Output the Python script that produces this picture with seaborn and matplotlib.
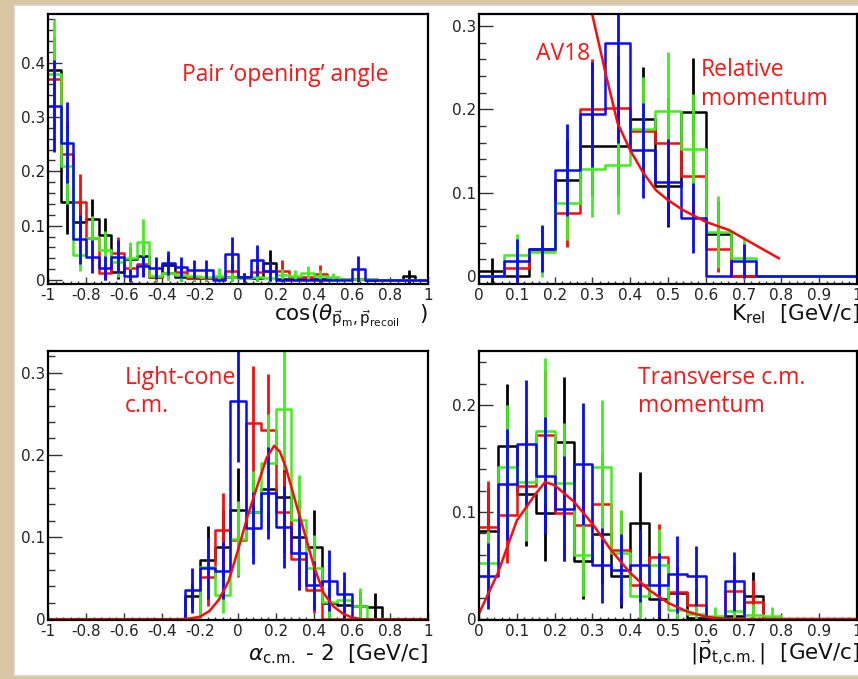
import numpy as np
import pandas as pd
import matplotlib
matplotlib.use("Agg")
import matplotlib.pyplot as plt
import seaborn as sns
from matplotlib.patches import Rectangle
from matplotlib.ticker import MultipleLocator, FuncFormatter

# ---------------- data ----------------
# Panel 1: pair opening angle, 30 bins on [-1, 1]
p1_black = [0.387, 0.143, 0.106, 0.113, 0.083, 0.014, 0.038, 0.044, 0.006, 0.028, 0.006, 0.004, 0.003, 0.003, 0.005,
            0.005, 0.003, 0.031, 0.002, 0.001, 0.001, 0.001, 0.001, 0.001, 0.001, 0.0, 0.0, 0.0, 0.007, 0.0]
p1_black_err = [0.06, 0.058, 0.04, 0.036, 0.032, 0.012, 0.022, 0.02, 0.007, 0.018, 0.007, 0.005, 0.005, 0.005, 0.006,
                0.008, 0.005, 0.025, 0.0, 0.0, 0.0, 0.0, 0.0, 0.0, 0.0, 0.0, 0.0, 0.0, 0.012, 0.0]
p1_red = [0.37, 0.232, 0.144, 0.078, 0.012, 0.05, 0.022, 0.029, 0.005, 0.012, 0.015, 0.003, 0.003, 0.003, 0.017,
          0.004, 0.014, 0.017, 0.017, 0.005, 0.005, 0.011, 0.002, 0.002, 0.002, 0.001, 0.0, 0.0, 0.0, 0.0]
p1_red_err = [0.07, 0.06, 0.052, 0.04, 0.012, 0.03, 0.02, 0.022, 0.008, 0.012, 0.013, 0.005, 0.005, 0.005, 0.014,
              0.006, 0.013, 0.014, 0.02, 0.0, 0.0, 0.017, 0.0, 0.0, 0.0, 0.0, 0.0, 0.0, 0.0, 0.0]
p1_green = [0.38, 0.21, 0.046, 0.077, 0.055, 0.034, 0.04, 0.069, 0.008, 0.012, 0.01, 0.008, 0.006, 0.008, 0.005,
            0.004, 0.006, 0.004, 0.01, 0.008, 0.013, 0.008, 0.005, 0.002, 0.002, 0.001, 0.0, 0.0, 0.0, 0.0]
p1_green_err = [0.1, 0.07, 0.03, 0.04, 0.035, 0.028, 0.03, 0.043, 0.01, 0.012, 0.011, 0.009, 0.008, 0.014, 0.007,
                0.006, 0.008, 0.007, 0.01, 0.01, 0.013, 0.01, 0.007, 0.0, 0.0, 0.0, 0.0, 0.0, 0.0, 0.0]
p1_blue = [0.32, 0.253, 0.075, 0.043, 0.022, 0.043, 0.008, 0.025, 0.022, 0.031, 0.023, 0.019, 0.019, 0.0, 0.047,
           0.005, 0.036, 0.017, 0.0, 0.0, 0.0, 0.0, 0.0, 0.0, 0.02, 0.0, 0.0, 0.0, 0.0, 0.0]
p1_blue_err = [0.085, 0.075, 0.045, 0.03, 0.022, 0.03, 0.012, 0.02, 0.02, 0.022, 0.02, 0.018, 0.018, 0.0, 0.033,
               0.008, 0.028, 0.018, 0.0, 0.0, 0.0, 0.0, 0.0, 0.0, 0.024, 0.0, 0.0, 0.0, 0.0, 0.0]

# Panel 2: relative momentum, 15 bins on [0, 1]
p2_black = [0.0064, 0.0, 0.033, 0.115, 0.156, 0.156, 0.189, 0.108, 0.197, 0.05, 0.0, 0.0, 0.0, 0.0, 0.0]
p2_black_err = [0.015, 0.0, 0.025, 0.05, 0.06, 0.06, 0.062, 0.049, 0.065, 0.04, 0.0, 0.0, 0.0, 0.0, 0.0]
p2_red = [0.0, 0.01, 0.031, 0.076, 0.2, 0.202, 0.174, 0.16, 0.12, 0.032, 0.0, 0.0, 0.0, 0.0, 0.0]
p2_red_err = [0.0, 0.014, 0.024, 0.041, 0.061, 0.062, 0.057, 0.055, 0.047, 0.027, 0.0, 0.0, 0.0, 0.0, 0.0]
p2_green = [0.0, 0.025, 0.029, 0.088, 0.129, 0.133, 0.177, 0.198, 0.153, 0.053, 0.022, 0.0, 0.0, 0.0, 0.0]
p2_green_err = [0.0, 0.026, 0.03, 0.045, 0.058, 0.058, 0.062, 0.071, 0.065, 0.043, 0.025, 0.0, 0.0, 0.0, 0.0]
p2_blue = [0.0, 0.018, 0.033, 0.127, 0.194, 0.28, 0.151, 0.113, 0.07, 0.0, 0.018, 0.0, 0.0, 0.0, 0.0]
p2_blue_err = [0.0, 0.027, 0.028, 0.055, 0.063, 0.12, 0.057, 0.052, 0.042, 0.0, 0.02, 0.0, 0.0, 0.0, 0.0]
av18_x = [0.29, 0.30, 0.337, 0.367, 0.40, 0.433, 0.468, 0.50, 0.54, 0.60, 0.662, 0.724, 0.794]
av18_y = [0.345, 0.313, 0.239, 0.183, 0.151, 0.125, 0.103, 0.091, 0.079, 0.065, 0.055, 0.039, 0.021]

# Panel 3: light-cone c.m., 25 bins on [-1, 1]
p3_black = [0] * 9 + [0.028, 0.072, 0.088, 0.133, 0.13, 0.158, 0.149, 0.1, 0.088, 0.02, 0.017, 0.016, 0.015] + [0] * 3
p3_black_err = [0] * 9 + [0.015, 0.041, 0.045, 0.051, 0.05, 0.05, 0.05, 0.045, 0.045, 0.02, 0.018, 0.018, 0.017] + [0] * 3
p3_red = [0] * 9 + [0.0, 0.051, 0.108, 0.096, 0.239, 0.23, 0.13, 0.073, 0.036, 0.0, 0.0, 0.0, 0.0] + [0] * 3
p3_red_err = [0] * 9 + [0.0, 0.035, 0.046, 0.045, 0.069, 0.068, 0.05, 0.037, 0.029, 0.0, 0.0, 0.0, 0.0] + [0] * 3
p3_green = [0] * 9 + [0.0, 0.063, 0.03, 0.098, 0.13, 0.19, 0.256, 0.121, 0.062, 0.021, 0.023, 0.016, 0.0] + [0] * 3
p3_green_err = [0] * 9 + [0.0, 0.035, 0.023, 0.046, 0.05, 0.06, 0.075, 0.055, 0.04, 0.02, 0.017, 0.022, 0.0] + [0] * 3
p3_blue = [0] * 9 + [0.035, 0.062, 0.059, 0.266, 0.111, 0.154, 0.112, 0.081, 0.041, 0.047, 0.031, 0.0, 0.0] + [0] * 3
p3_blue_err = [0] * 9 + [0.027, 0.038, 0.035, 0.075, 0.044, 0.056, 0.05, 0.045, 0.03, 0.037, 0.027, 0.0, 0.0] + [0] * 3
lc_x = [-1.0, -0.3, -0.25, -0.2, -0.15, -0.1, -0.05, 0.0, 0.05, 0.1, 0.15, 0.19, 0.22, 0.25, 0.3, 0.35, 0.4,
        0.45, 0.5, 0.55, 0.6, 0.65, 1.0]
lc_y = [0.0, 0.0, 0.001, 0.003, 0.01, 0.024, 0.046, 0.084, 0.125, 0.161, 0.196, 0.211, 0.204, 0.186, 0.145, 0.105,
        0.064, 0.032, 0.016, 0.007, 0.002, 0.0, 0.0]

# Panel 4: transverse c.m. momentum, 20 bins on [0, 1]
p4_black = [0.0826, 0.162, 0.117, 0.099, 0.165, 0.054, 0.079, 0.04, 0.09, 0.019, 0.024, 0.001, 0.002, 0.003, 0.021,
            0.0, 0.0, 0.0, 0.0, 0.0]
p4_black_err = [0.04, 0.058, 0.049, 0.045, 0.061, 0.035, 0.045, 0.03, 0.047, 0.02, 0.025, 0.0, 0.0, 0.0, 0.023,
                0.0, 0.0, 0.0, 0.0, 0.0]
p4_red = [0.086, 0.097, 0.124, 0.172, 0.099, 0.088, 0.107, 0.064, 0.032, 0.058, 0.025, 0.013, 0.001, 0.026, 0.016,
          0.0, 0.0, 0.0, 0.0, 0.0]
p4_red_err = [0.043, 0.045, 0.05, 0.06, 0.045, 0.042, 0.047, 0.036, 0.026, 0.031, 0.022, 0.016, 0.0, 0.024, 0.02,
              0.0, 0.0, 0.0, 0.0, 0.0]
p4_green = [0.052, 0.142, 0.128, 0.176, 0.127, 0.06, 0.142, 0.062, 0.021, 0.05, 0.008, 0.005, 0.003, 0.007, 0.004,
            0.003, 0.0, 0.0, 0.0, 0.0]
p4_green_err = [0.03, 0.058, 0.055, 0.068, 0.056, 0.039, 0.063, 0.04, 0.03, 0.034, 0.012, 0.01, 0.008, 0.012, 0.01,
                0.008, 0.0, 0.0, 0.0, 0.0]
p4_blue = [0.04, 0.126, 0.164, 0.134, 0.103, 0.145, 0.05, 0.046, 0.05, 0.032, 0.042, 0.04, 0.0, 0.035, 0.0,
           0.0, 0.0, 0.0, 0.0, 0.0]
p4_blue_err = [0.031, 0.052, 0.059, 0.055, 0.049, 0.057, 0.035, 0.033, 0.034, 0.03, 0.036, 0.028, 0.0, 0.028, 0.0,
               0.0, 0.0, 0.0, 0.0, 0.0]
tcm_x = [0.0, 0.05, 0.1, 0.15, 0.175, 0.2, 0.25, 0.3, 0.35, 0.4, 0.45, 0.5, 0.55, 0.6, 0.65, 1.0]
tcm_y = [0.005, 0.043, 0.092, 0.117, 0.128, 0.125, 0.11, 0.089, 0.064, 0.043, 0.027, 0.015, 0.007, 0.002, 0.0, 0.0]

# ---------------- style ----------------
sns.set_theme(style="white")
plt.rcParams["font.family"] = ["DejaVu Sans"]
plt.rcParams["mathtext.fontset"] = "dejavusans"
plt.rcParams["axes.unicode_minus"] = False

BLACK, RED, GREEN, BLUE = "#000000", "#ff0a0a", "#3ef01a", "#0a0aff"
TXT_RED = "#ff1414"
W, H = 858, 679

fig = plt.figure(figsize=(W / 100, H / 100), dpi=100)
fig.patch.set_facecolor("#d7c5a3")
fig.add_artist(Rectangle((14 / W, 1 - 676 / H), 1.0, 671 / H, transform=fig.transFigure,
                         facecolor="white", edgecolor="#d6d1c8", lw=1.2, zorder=0))


def make_axes(x0, y0, x1, y1):
    return fig.add_axes([x0 / W, 1 - y1 / H, (x1 - x0) / W, (y1 - y0) / H])


def fmt(v, p):
    v = 0 if abs(v) < 1e-9 else v
    return "%g" % round(v, 6)


def draw_hist(ax, lo, hi, nbins, vals, errs, color):
    edges = np.linspace(lo, hi, nbins + 1)
    centers = (edges[:-1] + edges[1:]) / 2
    df = pd.DataFrame({"x": centers, "w": np.asarray(vals, dtype=float)})
    sns.histplot(data=df, x="x", weights="w", bins=nbins, binrange=(lo, hi), element="step", fill=False,
                 color=color, linewidth=1.8, ax=ax)
    e = np.asarray(errs, dtype=float)
    v = np.asarray(vals, dtype=float)
    m = e > 0
    ax.errorbar(centers[m], v[m], yerr=e[m], fmt="none", ecolor=color, elinewidth=2.0, capsize=0)


def style_axes(ax, xlim, ylim, xmaj, xmin, ymaj, ymin):
    ax.set_xlim(*xlim)
    ax.set_ylim(*ylim)
    ax.set_xlabel("")
    ax.set_ylabel("")
    ax.xaxis.set_major_locator(MultipleLocator(xmaj))
    ax.xaxis.set_minor_locator(MultipleLocator(xmin))
    ax.yaxis.set_major_locator(MultipleLocator(ymaj))
    ax.yaxis.set_minor_locator(MultipleLocator(ymin))
    ax.xaxis.set_major_formatter(FuncFormatter(fmt))
    ax.yaxis.set_major_formatter(FuncFormatter(fmt))
    ax.tick_params(axis="both", which="both", direction="in", bottom=True, left=True,
                   top=False, right=False, color="#333333", labelcolor="#222222")
    ax.tick_params(axis="y", which="major", length=10, width=1.0, pad=2, labelsize=11)
    ax.tick_params(axis="y", which="minor", length=5, width=1.0)
    ax.tick_params(axis="x", which="major", length=5, width=1.0, pad=3, labelsize=11)
    ax.tick_params(axis="x", which="minor", length=2.5, width=1.0)
    for s in ax.spines.values():
        s.set_color("black")
        s.set_linewidth(1.6)
    ax.set_facecolor("white")


series_colors = [BLACK, RED, GREEN, BLUE]

# Panel 1
ax1 = make_axes(48, 14, 428, 284)
for vals, errs, c in zip([p1_black, p1_red, p1_green, p1_blue],
                         [p1_black_err, p1_red_err, p1_green_err, p1_blue_err], series_colors):
    draw_hist(ax1, -1, 1, len(vals), vals, errs, c)
style_axes(ax1, (-1, 1), (-0.0074, 0.4896), 0.2, 0.04, 0.1, 0.02)

# Panel 2
ax2 = make_axes(479, 14, 857, 284)
for vals, errs, c in zip([p2_black, p2_red, p2_green, p2_blue],
                         [p2_black_err, p2_red_err, p2_green_err, p2_blue_err], series_colors):
    draw_hist(ax2, 0, 1, len(vals), vals, errs, c)
sns.lineplot(x=av18_x, y=av18_y, sort=False, color=RED, linewidth=1.8, ax=ax2)
style_axes(ax2, (0, 1), (-0.0096, 0.3144), 0.1, 0.02, 0.1, 0.02)

# Panel 3
ax3 = make_axes(48, 351, 428, 620)
for vals, errs, c in zip([p3_black, p3_red, p3_green, p3_blue],
                         [p3_black_err, p3_red_err, p3_green_err, p3_blue_err], series_colors):
    draw_hist(ax3, -1, 1, len(vals), vals, errs, c)
sns.lineplot(x=lc_x, y=lc_y, sort=False, color=RED, linewidth=1.8, ax=ax3)
style_axes(ax3, (-1, 1), (-0.001, 0.3264), 0.2, 0.04, 0.1, 0.02)

# Panel 4
ax4 = make_axes(479, 351, 857, 620)
for vals, errs, c in zip([p4_black, p4_red, p4_green, p4_blue],
                         [p4_black_err, p4_red_err, p4_green_err, p4_blue_err], series_colors):
    draw_hist(ax4, 0, 1, len(vals), vals, errs, c)
sns.lineplot(x=tcm_x, y=tcm_y, sort=False, color=RED, linewidth=1.8, ax=ax4)
style_axes(ax4, (0, 1), (-0.001, 0.2505), 0.1, 0.02, 0.1, 0.02)


def ftext(x, y, s, **kw):
    fig.text(x / W, 1 - y / H, s, **kw)


# axis titles
lab = dict(ha="right", va="baseline", fontsize=15.5, color="#111111")
ftext(428, 320, r"cos($\theta_{\vec{\mathrm{p}}_{\mathrm{m}},\vec{\mathrm{p}}_{\mathrm{recoil}}}$   )", **lab)
ftext(860, 320, r"K$_{\mathrm{rel}}$  [GeV/c]", **lab)
ftext(428, 660, r"$\alpha_{\mathrm{c.\!m.}}$ - 2  [GeV/c]", **lab)
ftext(860, 659, r"$|\vec{\mathrm{p}}_{\mathrm{t,\!c.\!m.}}|$  [GeV/c]", **lab)

# red annotations
ann = dict(ha="left", va="baseline", fontsize=16.5, color=TXT_RED, family=["Open Sans", "DejaVu Sans"])
ftext(182, 81, "Pair \u2018opening\u2019 angle", **ann)
ftext(536, 60, "AV18", **ann)
ftext(701, 76, "Relative", **ann)
ftext(701, 105, "momentum", **ann)
ftext(125, 384, "Light-cone", **ann)
ftext(125, 412, "c.m.", **ann)
ftext(638, 384, "Transverse c.m.", **ann)
ftext(638, 412, "momentum", **ann)

fig.savefig("out.png", dpi=100, facecolor=fig.get_facecolor())
